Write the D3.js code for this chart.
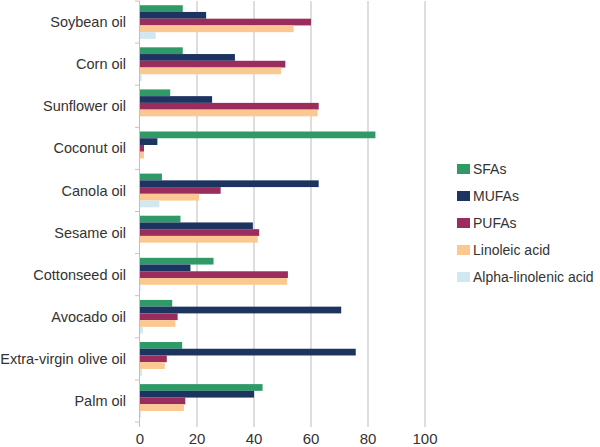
<!DOCTYPE html>
<html>
<head>
<meta charset="utf-8">
<script src="https://cdn.jsdelivr.net/npm/d3@7"></script>
<style>
  body { margin: 0; background: #fff; }
  text { font-family: "Liberation Sans", Arial, sans-serif; fill: #333; }
</style>
</head>
<body>
<svg width="600" height="447"></svg>
<script>
const svg = d3.select('svg');

const oils = ['Soybean oil', 'Corn oil', 'Sunflower oil', 'Coconut oil', 'Canola oil',
  'Sesame oil', 'Cottonseed oil', 'Avocado oil', 'Extra-virgin olive oil', 'Palm oil'];
const seriesNames = ['SFAs', 'MUFAs', 'PUFAs', 'Linoleic acid', 'Alpha-linolenic acid'];

// values per oil, same order as oils
const sfa     = [15.0, 15.0, 10.6, 82.6, 7.7, 14.2, 25.8, 11.3, 14.8, 43.0];
const mufa    = [23.2, 33.3, 25.3, 6.1, 62.7, 39.6, 17.7, 70.6, 75.7, 40.0];
const pufa    = [60.0, 51.0, 62.7, 1.4, 28.3, 41.8, 51.9, 13.2, 9.4, 15.9];
const linoleic = [53.9, 49.5, 62.3, 1.4, 20.7, 41.3, 51.6, 12.4, 8.7, 15.4];
const alpha   = [5.5, 0.6, 0, 0, 6.8, 0, 0.2, 1.0, 0.7, 0.3];
const xTicks = [0, 20, 40, 60, 80, 100];

const colors = ['#2f9a68', '#1d3461', '#9a2c5e', '#fcc892', '#d2e8f1'];

const series = [sfa, mufa, pufa, linoleic, alpha];

const plotLeft = 140, plotRight = 425, plotTop = 1, plotBottom = 422;

const x = d3.scaleLinear().domain([0, 100]).range([plotLeft, plotRight]);
const y = d3.scaleBand().domain(oils).range([plotTop, plotBottom])
  .paddingInner(0.2).paddingOuter(0.1);
const ySub = d3.scaleBand().domain(seriesNames).range([0, y.bandwidth()]);
const color = d3.scaleOrdinal().domain(seriesNames).range(colors);

// gridlines (run a little past the plot as tick marks)
svg.append('g')
  .selectAll('line')
  .data(xTicks.slice(1))
  .enter().append('line')
    .attr('x1', d => x(d)).attr('x2', d => x(d))
    .attr('y1', plotTop).attr('y2', plotBottom + 5)
    .attr('stroke', '#bdbdbd').attr('stroke-width', 1);

// bars
const groups = svg.append('g')
  .selectAll('g')
  .data(oils)
  .enter().append('g')
    .attr('transform', d => `translate(0, ${y(d)})`);

groups.selectAll('rect')
  .data((d, i) => seriesNames.map((s, j) => ({ s, v: series[j][i] })))
  .enter().append('rect')
    .attr('x', x(0))
    .attr('y', d => ySub(d.s))
    .attr('width', d => x(d.v) - x(0))
    .attr('height', ySub.bandwidth())
    .attr('fill', d => color(d.s));

// left axis line + ticks between categories
svg.append('line')
  .attr('x1', plotLeft - 0.5).attr('x2', plotLeft - 0.5)
  .attr('y1', plotTop).attr('y2', plotBottom + 5)
  .attr('stroke', '#bfbfbf');

const bounds = d3.range(oils.length + 1).map(i => plotTop + i * y.step());
svg.append('g')
  .selectAll('line')
  .data(bounds)
  .enter().append('line')
    .attr('x1', plotLeft - 5).attr('x2', plotLeft - 0.5)
    .attr('y1', d => d).attr('y2', d => d)
    .attr('stroke', '#d9b9c3');

// category labels
svg.append('g')
  .selectAll('text')
  .data(oils)
  .enter().append('text')
    .attr('x', 126)
    .attr('y', d => y(d) + y.bandwidth() / 2)
    .attr('dy', '0.35em')
    .attr('text-anchor', 'end')
    .attr('font-size', 14.5)
    .text(d => d);

// x tick labels
svg.append('g')
  .selectAll('text')
  .data(xTicks)
  .enter().append('text')
    .attr('x', d => x(d))
    .attr('y', 444)
    .attr('text-anchor', 'middle')
    .attr('font-size', 15)
    .text(d => d);

// legend
const legend = svg.append('g')
  .selectAll('g')
  .data(seriesNames)
  .enter().append('g')
    .attr('transform', (d, i) => `translate(457, ${169 + i * 27})`);

legend.append('rect')
  .attr('x', 0).attr('y', -5)
  .attr('width', 13).attr('height', 10)
  .attr('fill', d => color(d));

legend.append('text')
  .attr('x', 16)
  .attr('dy', '0.35em')
  .attr('font-size', 14)
  .text(d => d);
</script>
</body>
</html>
